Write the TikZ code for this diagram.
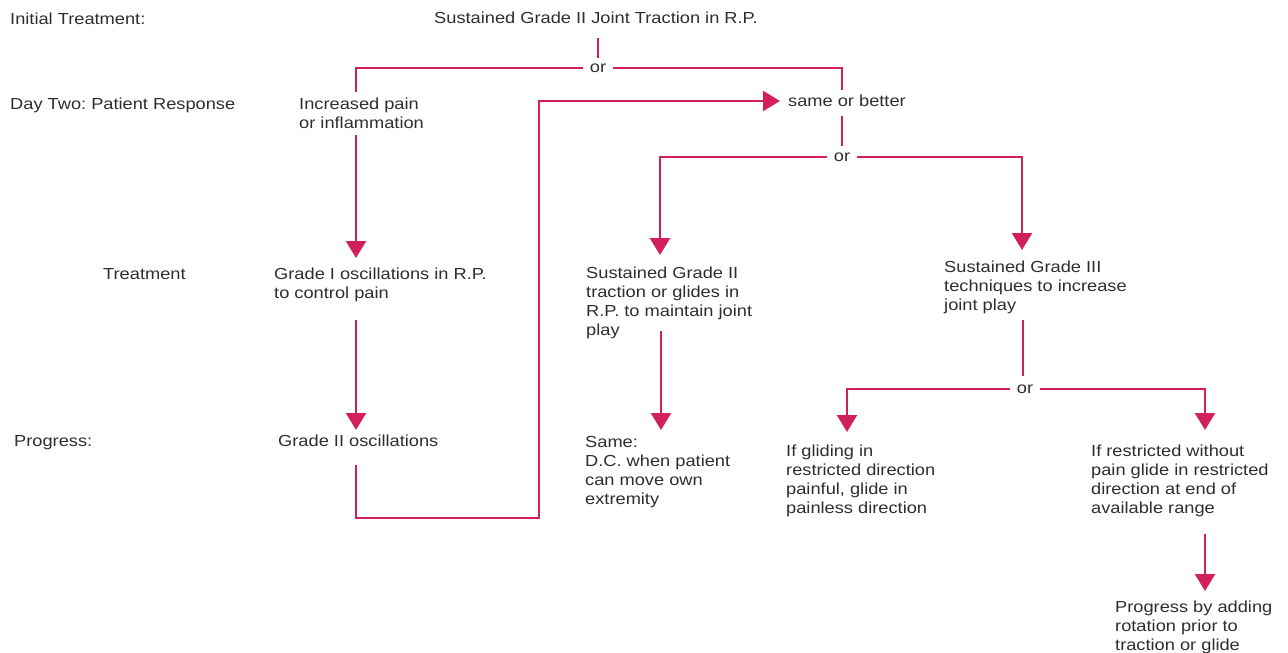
\documentclass[tikz,border=0pt]{standalone}
\usepackage{fontspec}
\setmainfont{Liberation Sans}[FakeStretch=1.14]
\usetikzlibrary{arrows.meta}
\definecolor{flow}{HTML}{D2215A}
\definecolor{txt}{HTML}{2E2E2E}
\frenchspacing
\begin{document}
\begin{tikzpicture}[x=1pt,y=-1pt,
 conn/.style={draw=flow, line width=2.4pt},
 arr/.style={conn, -{Triangle[width=20pt,length=17pt]}},
 lbl/.style={anchor=north west, inner sep=0pt, align=left, text=txt, font=\fontsize{16}{19}\selectfont},
 ornode/.style={inner xsep=7pt, inner ysep=0pt, text=txt, font=\fontsize{16}{19}\selectfont}]
\useasboundingbox (0,0) rectangle (1288,653);
% side labels
\node[lbl] (l1) at (10,13) {Initial Treatment:};
\node[lbl] (l2) at (10,98) {Day Two: Patient Response};
\node[lbl] (l3) at (103,268) {Treatment};
\node[lbl] (l4) at (14,435) {Progress:};
% main nodes
\node[lbl] (top) at (434,12) {Sustained Grade II Joint Traction in R.P.};
\node[ornode] (or1) at (598,68) {or};
\node[lbl] (inc) at (299,98) {Increased pain\\or inflammation};
\node[lbl] (same) at (788,95) {same or better};
\node[ornode] (or2) at (842,157) {or};
\node[lbl] (g1) at (274,268) {Grade I oscillations in R.P.\\to control pain};
\node[lbl] (sg2) at (586,267) {Sustained Grade II\\traction or glides in\\R.P. to maintain joint\\play};
\node[lbl] (sg3) at (944,261) {Sustained Grade III\\techniques to increase\\joint play};
\node[lbl] (g2) at (278,435) {Grade II oscillations};
\node[lbl] (samep) at (585,436) {Same:\\D.C. when patient\\can move own\\extremity};
\node[ornode] (or3) at (1025,389) {or};
\node[lbl] (glide) at (786,445) {If gliding in\\restricted direction\\painful, glide in\\painless direction};
\node[lbl] (restr) at (1091,445) {If restricted without\\pain glide in restricted\\direction at end of\\available range};
\node[lbl] (prog) at (1115,601) {Progress by adding\\rotation prior to\\traction or glide};
% connector end points
\coordinate (c1a) at (598,38);   \coordinate (c1b) at (598,58);
\coordinate (c2) at (356,92);    \coordinate (c3) at (842,90);
\coordinate (c4a) at (842,116);  \coordinate (c4b) at (842,146);
\coordinate (c5) at (660,255);   \coordinate (c6) at (1022,250);
\coordinate (c7a) at (356,135);  \coordinate (c7b) at (356,258);
\coordinate (c8a) at (356,320);  \coordinate (c8b) at (356,430);
\coordinate (c9a) at (661,331);  \coordinate (c9b) at (661,430);
\coordinate (c10a) at (1023,320); \coordinate (c10b) at (1023,376);
\coordinate (c11) at (847,432);  \coordinate (c12) at (1205,430);
\coordinate (c13a) at (1205,534); \coordinate (c13b) at (1205,591);
\coordinate (c14a) at (356,465); \coordinate (c14b) at (539,518);
\coordinate (c14c) at (780,101);
% connectors
\draw[conn] (c1a) -- (c1b);
\draw[conn] (or1.west) -| (c2);
\draw[conn] (or1.east) -| (c3);
\draw[conn] (c4a) -- (c4b);
\draw[arr] (or2.west) -| (c5);
\draw[arr] (or2.east) -| (c6);
\draw[arr] (c7a) -- (c7b);
\draw[arr] (c8a) -- (c8b);
\draw[arr] (c9a) -- (c9b);
\draw[conn] (c10a) -- (c10b);
\draw[arr] (or3.west) -| (c11);
\draw[arr] (or3.east) -| (c12);
\draw[arr] (c13a) -- (c13b);
\draw[arr] (c14a) |- (c14b) |- (c14c);
\end{tikzpicture}
\end{document}
